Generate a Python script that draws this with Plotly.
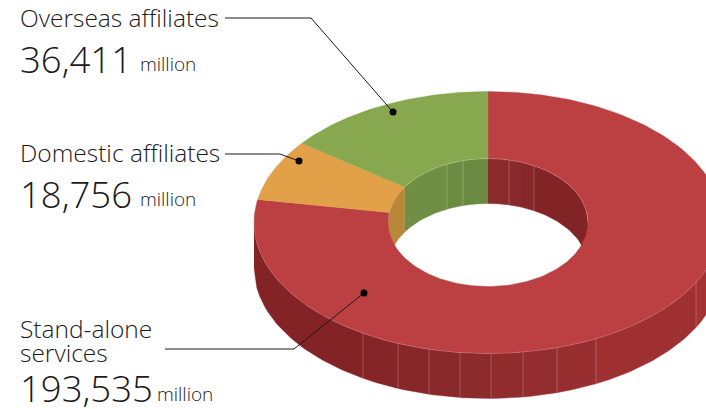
import numpy as np
import plotly.graph_objects as go

# Revenue by segment, in millions, clockwise from twelve o'clock
segments = ["Stand-alone services", "Domestic affiliates", "Overseas affiliates"]
values = [193535, 18756, 36411]
value_labels = ["193,535", "18,756", "36,411"]
top_colors = ["#BC4042", "#E2A049", "#88A84F"]

# Projected ring geometry, in page pixels
CX, CY = 488, 222.5
RX_OUT, RY_OUT = 234, 131
RX_IN, RY_IN = 100, 64
DEPTH = 45
FONT = "Open Sans"

# Shaded panels of the walls: (left x, right x, colour)
outer_panels = [
    (254, 363, "#842326"), (363, 398, "#862528"), (398, 429, "#88272A"),
    (429, 460, "#8A292B"), (460, 491, "#8C2A2C"), (491, 523, "#902C2E"),
    (523, 557, "#942D2F"), (557, 596, "#982E30"), (596, 696, "#9F3032"),
    (696, 722, "#A63334"),
]
outer_seams = [363, 398, 429, 460, 491, 523, 557, 596, 696]
inner_panels = [
    (447, 463, "#6D8C42"), (463, 476, "#6B8A41"), (476, 488, "#6B8A40"),
    (488, 498, "#8C2B2D"), (498, 509, "#8B2A2C"), (509, 521, "#8A292B"),
    (521, 534, "#882729"), (534, 588, "#822326"),
]
inner_seams = [447, 463, 509, 534]

fig = go.Figure()


def poly(xs, ys, color):
    fig.add_trace(go.Scatter(x=xs, y=ys, mode="lines", fill="toself", fillcolor=color,
                             line=dict(color=color, width=0.4), hoverinfo="skip"))


def rule(xs, ys, color, width):
    fig.add_trace(go.Scatter(x=xs, y=ys, mode="lines", line=dict(color=color, width=width),
                             hoverinfo="skip"))


def arc_y(x, rx, ry):
    u = np.clip((np.asarray(x, dtype=float) - CX) / rx, -1, 1)
    return ry * np.sqrt(1 - u * u)


def inner_param(theta):
    # Carry a rim angle onto the hole's ellipse along the same ray through the centre
    return np.arctan2(np.sin(theta) * RX_OUT / RX_IN, np.cos(theta) * RY_OUT / RY_IN)


# Slice boundaries from the values
total = sum(values)
bounds = np.concatenate([[0], np.cumsum(values)]) / total * 2 * np.pi

# Outer wall: front half of the ring
for x0, x1, c in outer_panels:
    xs = np.linspace(x0, x1, 40)
    ys = CY + arc_y(xs, RX_OUT, RY_OUT)
    poly(np.r_[xs, xs[::-1]], np.r_[ys, ys[::-1] + DEPTH], c)
for x in outer_seams:
    y = CY + float(arc_y(x, RX_OUT, RY_OUT))
    rule([x, x], [y, y + DEPTH], "rgba(255,255,255,0.28)", 0.8)

# Inner wall: back half of the hole, coloured by slice
a_green = inner_param(bounds[2])
x_green = CX + RX_IN * np.sin(a_green)
panels = [(CX - RX_IN, x_green, "#B8873A"), (x_green, 447, "#6F8F44")] + inner_panels
for x0, x1, c in panels:
    xs = np.linspace(x0, x1, 30)
    ys = CY - arc_y(xs, RX_IN, RY_IN)
    poly(np.r_[xs, xs[::-1]], np.r_[ys, ys[::-1] + DEPTH], c)
for x in inner_seams:
    y = CY - float(arc_y(x, RX_IN, RY_IN))
    rule([x, x], [y, y + DEPTH], "rgba(255,255,255,0.28)", 0.8)

# Top face
for i, c in enumerate(top_colors):
    t = np.linspace(bounds[i], bounds[i + 1], 240)
    a = np.unwrap(inner_param(t))
    xs = np.r_[CX + RX_OUT * np.sin(t), CX + RX_IN * np.sin(a[::-1])]
    ys = np.r_[CY - RY_OUT * np.cos(t), CY - RY_IN * np.cos(a[::-1])]
    poly(np.r_[xs, xs[0]], np.r_[ys, ys[0]], c)

# Pale highlights along the front rim and the back of the hole
xs = np.linspace(254, 722, 300)
rule(xs, CY + arc_y(xs, RX_OUT, RY_OUT), "rgba(255,255,255,0.22)", 0.7)
xs = np.linspace(x_green, CX + RX_IN, 200)
rule(xs, CY - arc_y(xs, RX_IN, RY_IN), "rgba(255,255,255,0.3)", 0.7)

# Leader lines with their end dots
leaders = [
    ([225, 311, 393], [18, 18, 112]),
    ([225, 280, 299], [154, 154, 161]),
    ([165, 294, 364], [349, 349, 293]),
]
for lx, ly in leaders:
    rule(lx, ly, "#1a1a1a", 1)
    fig.add_trace(go.Scatter(x=[lx[-1]], y=[ly[-1]], mode="markers",
                             marker=dict(color="#000000", size=7), hoverinfo="skip"))


def label(x, y, text, size):
    fig.add_annotation(x=x, y=y, text=text, showarrow=False, xanchor="left", yanchor="middle",
                       align="left", xref="x", yref="y", borderpad=0, borderwidth=0,
                       font=dict(family=FONT, size=size, color="#1a1a1a", weight=300))


label(20, 17, segments[2], 24.5)
label(20, 59, value_labels[2], 36.5)
label(140, 64, "million", 19)
label(20, 152.5, segments[1], 24.5)
label(20, 194, value_labels[1], 36.5)
label(140, 199, "million", 19)
label(20, 328, "Stand-alone", 24.5)
label(20, 352, "services", 24.5)
label(20, 388, value_labels[0], 36.5)
label(157, 394, "million", 19)

fig.update_layout(
    width=706, height=409, autosize=False, showlegend=False,
    margin=dict(l=0, r=0, t=0, b=0),
    paper_bgcolor="white", plot_bgcolor="white",
    xaxis=dict(range=[0, 706], visible=False, fixedrange=True),
    yaxis=dict(range=[409, 0], visible=False, fixedrange=True),
)
fig.write_html("out.html", config=dict(displayModeBar=False))
